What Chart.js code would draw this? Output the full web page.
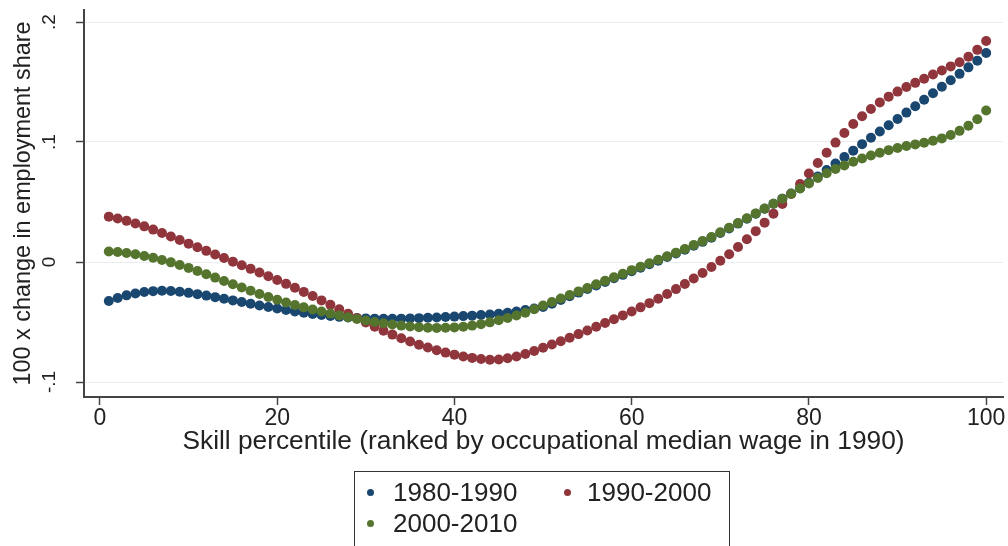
<!DOCTYPE html>
<html>
<head>
<meta charset="utf-8">
<title>Employment share change by skill percentile</title>
<script src="https://cdn.jsdelivr.net/npm/chart.js@4.4.0/dist/chart.umd.min.js"></script>
<style>
  html, body { margin: 0; padding: 0; background: #fff; }
  #wrap { position: relative; width: 1008px; height: 546px; overflow: hidden; font-family: "Liberation Sans", Arial, sans-serif; }
  #chart { position: absolute; left: 0; top: 0; }
  #legend { position: absolute; left: 354px; top: 471px; width: 374px; height: 90px; border: 1px solid #333; }
  .item { position: absolute; font-size: 26px; color: #222; line-height: 30px; white-space: nowrap; }
  .dot { position: absolute; width: 7px; height: 7px; border-radius: 50%; }
</style>
</head>
<body>
<div id="wrap">
  <canvas id="chart" width="1008" height="546"></canvas>
  <div id="legend"></div>
</div>
<script>
// skill percentile (x) for every dot
const percentiles = [
  1, 2, 3, 4, 5, 6, 7, 8, 9, 10, 11, 12, 13, 14, 15, 16, 17, 18, 19, 20,
  21, 22, 23, 24, 25, 26, 27, 28, 29, 30, 31, 32, 33, 34, 35, 36, 37, 38, 39, 40,
  41, 42, 43, 44, 45, 46, 47, 48, 49, 50, 51, 52, 53, 54, 55, 56, 57, 58, 59, 60,
  61, 62, 63, 64, 65, 66, 67, 68, 69, 70, 71, 72, 73, 74, 75, 76, 77, 78, 79, 80,
  81, 82, 83, 84, 85, 86, 87, 88, 89, 90, 91, 92, 93, 94, 95, 96, 97, 98, 99, 100
];

// 100 x change in employment share
const share1980 = [
  -0.0325, -0.0300, -0.0278, -0.0262, -0.0250, -0.0243, -0.0240, -0.0242, -0.0248, -0.0257,
  -0.0268, -0.0280, -0.0293, -0.0306, -0.0320, -0.0334, -0.0348, -0.0362, -0.0375, -0.0388,
  -0.0400, -0.0412, -0.0423, -0.0433, -0.0442, -0.0450, -0.0457, -0.0463, -0.0467, -0.0470,
  -0.0472, -0.0473, -0.0473, -0.0472, -0.0470, -0.0468, -0.0465, -0.0462, -0.0459, -0.0455,
  -0.0451, -0.0447, -0.0442, -0.0437, -0.0431, -0.0423, -0.0413, -0.0401, -0.0388, -0.0374,
  -0.0347, -0.0316, -0.0285, -0.0255, -0.0225, -0.0195, -0.0166, -0.0136, -0.0107, -0.0077,
  -0.0047, -0.0018, 0.0011, 0.0041, 0.0071, 0.0102, 0.0135, 0.0168, 0.0203, 0.0241,
  0.0280, 0.0320, 0.0361, 0.0402, 0.0444, 0.0486, 0.0528, 0.0571, 0.0615, 0.0660,
  0.0712, 0.0766, 0.0820, 0.0874, 0.0928, 0.0982, 0.1035, 0.1088, 0.1140, 0.1192,
  0.1245, 0.1298, 0.1352, 0.1406, 0.1460, 0.1514, 0.1568, 0.1622, 0.1678, 0.1742
];

const share1990 = [
  0.0378, 0.0362, 0.0343, 0.0321, 0.0297, 0.0270, 0.0242, 0.0213, 0.0183, 0.0153,
  0.0123, 0.0093, 0.0063, 0.0033, 0.0003, -0.0027, -0.0057, -0.0088, -0.0119, -0.0150,
  -0.0182, -0.0215, -0.0249, -0.0284, -0.0320, -0.0357, -0.0394, -0.0431, -0.0468, -0.0504,
  -0.0539, -0.0573, -0.0605, -0.0635, -0.0663, -0.0689, -0.0713, -0.0735, -0.0755, -0.0772,
  -0.0787, -0.0799, -0.0808, -0.0814, -0.0812, -0.0802, -0.0787, -0.0767, -0.0742, -0.0715,
  -0.0688, -0.0660, -0.0631, -0.0601, -0.0571, -0.0540, -0.0509, -0.0477, -0.0445, -0.0412,
  -0.0378, -0.0343, -0.0306, -0.0267, -0.0226, -0.0183, -0.0138, -0.0091, -0.0042, 0.0010,
  0.0065, 0.0125, 0.0190, 0.0257, 0.0328, 0.0403, 0.0483, 0.0566, 0.0650, 0.0738,
  0.0825, 0.0910, 0.0995, 0.1075, 0.1150, 0.1215, 0.1275, 0.1330, 0.1378, 0.1420,
  0.1458, 0.1493, 0.1527, 0.1562, 0.1596, 0.1630, 0.1665, 0.1710, 0.1768, 0.1842
];

const share2000 = [
  0.0088, 0.0083, 0.0075, 0.0064, 0.0050, 0.0035, 0.0017, -0.0003, -0.0025, -0.0049,
  -0.0075, -0.0102, -0.0130, -0.0158, -0.0186, -0.0213, -0.0240, -0.0266, -0.0291, -0.0315,
  -0.0337, -0.0358, -0.0378, -0.0396, -0.0413, -0.0430, -0.0446, -0.0461, -0.0475, -0.0488,
  -0.0500, -0.0511, -0.0521, -0.0530, -0.0537, -0.0543, -0.0547, -0.0549, -0.0548, -0.0545,
  -0.0539, -0.0530, -0.0518, -0.0503, -0.0486, -0.0467, -0.0446, -0.0423, -0.0394, -0.0363,
  -0.0334, -0.0304, -0.0275, -0.0245, -0.0216, -0.0186, -0.0157, -0.0127, -0.0098, -0.0068,
  -0.0039, -0.0010, 0.0019, 0.0048, 0.0078, 0.0109, 0.0141, 0.0174, 0.0208, 0.0247,
  0.0285, 0.0324, 0.0364, 0.0405, 0.0445, 0.0486, 0.0527, 0.0569, 0.0612, 0.0655,
  0.0700, 0.0740, 0.0775, 0.0805, 0.0835, 0.0862, 0.0887, 0.0910, 0.0932, 0.0950,
  0.0966, 0.0980, 0.0994, 0.1010, 0.1030, 0.1058, 0.1093, 0.1135, 0.1190, 0.1262
];

const seriesNames = ['1980-1990', '1990-2000', '2000-2010'];
const seriesColors = ['#1a476f', '#90353b', '#55752f'];
const xTicks = [0, 20, 40, 60, 80, 100];
const yTicks = [-0.1, 0, 0.1, 0.2];

const family = '"Liberation Sans", Arial, sans-serif';

// Stata style labels: .1, -.1
function stataLabel(v) {
    if (v === 0) return '0';
    const s = String(Math.abs(v)).replace(/^0/, '');
    return (v < 0 ? '-' : '') + s;
}

function toPoints(values) {
    return percentiles.map((p, i) => ({ x: p, y: values[i] }));
}

// rotated y tick labels, drawn at the scale's own tick positions
const yLabelPlugin = {
    id: 'yLabels',
    afterDraw(chart) {
        const ctx = chart.ctx;
        const yScale = chart.scales.y;
        ctx.save();
        ctx.font = '19px ' + family;
        ctx.fillStyle = '#222';
        ctx.textAlign = 'center';
        ctx.textBaseline = 'alphabetic';
        yTicks.forEach(v => {
            ctx.save();
            ctx.translate(55, yScale.getPixelForValue(v));
            ctx.rotate(-Math.PI / 2);
            ctx.fillText(stataLabel(v), 0, 0);
            ctx.restore();
        });
        ctx.restore();
    }
};

const allSeries = [share1980, share1990, share2000];
const drawOrder = [2, 1, 0];

const ctx = document.getElementById('chart').getContext('2d');
const chart = new Chart(ctx, {
    type: 'scatter',
    data: {
        datasets: allSeries.map((vals, i) => ({
            label: seriesNames[i],
            data: toPoints(vals),
            backgroundColor: seriesColors[i],
            borderColor: seriesColors[i],
            borderWidth: 0,
            pointRadius: 5,
            pointHoverRadius: 5,
            order: drawOrder[i]
        }))
    },
    options: {
        responsive: false,
        animation: false,
        events: [],
        layout: { padding: { top: 10, right: 5, bottom: 86, left: 0 } },
        plugins: {
            legend: { display: false },
            tooltip: { enabled: false }
        },
        scales: {
            x: {
                type: 'linear',
                min: -1.8,
                max: 101.9,
                afterBuildTicks: s => { s.ticks = xTicks.map(v => ({ value: v })); },
                afterFit: s => { s.height = 63; },
                grid: { drawOnChartArea: false, drawTicks: true, tickLength: 8, tickColor: '#444', tickWidth: 1.5 },
                border: { display: true, color: '#444', width: 2 },
                ticks: { padding: 0, color: '#222', maxRotation: 0, font: { size: 23, family: family } },
                title: {
                    display: true,
                    text: 'Skill percentile (ranked by occupational median wage in 1990)',
                    color: '#222',
                    font: { size: 26.3, family: family },
                    padding: { top: 0, bottom: 2 }
                }
            },
            y: {
                type: 'linear',
                min: -0.1125,
                max: 0.21,
                afterBuildTicks: s => { s.ticks = yTicks.map(v => ({ value: v })); },
                afterFit: s => { s.width = 84; },
                grid: { color: '#e8edf0', lineWidth: 1, drawTicks: true, tickLength: 8, tickColor: '#444', tickWidth: 1.5 },
                border: { display: true, color: '#444', width: 2 },
                ticks: { display: false },
                title: {
                    display: true,
                    text: '100 x change in employment share',
                    color: '#222',
                    font: { size: 23.4, family: family },
                    padding: { top: 10, bottom: 0 }
                }
            }
        }
    },
    plugins: [yLabelPlugin]
});

// legend box: two columns like the original
const legendSpots = [[15, 20], [212, 20], [15, 51]];
const legendDiv = document.getElementById('legend');
seriesNames.forEach((name, i) => {
    const [cx, cy] = legendSpots[i];
    const dot = document.createElement('span');
    dot.className = 'dot';
    dot.style.left = (cx - 3.5) + 'px';
    dot.style.top = (cy - 3.5) + 'px';
    dot.style.background = seriesColors[i];
    legendDiv.appendChild(dot);
    const item = document.createElement('div');
    item.className = 'item';
    item.style.left = (cx + 23 - (i === 1 ? 3 : 0)) + 'px';
    item.style.top = (cy - 15) + 'px';
    item.textContent = name;
    legendDiv.appendChild(item);
});
</script>
</body>
</html>
